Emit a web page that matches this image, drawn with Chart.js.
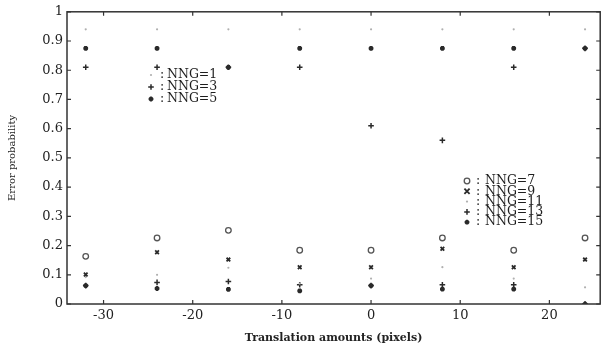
<!DOCTYPE html>
<html>
<head>
<meta charset="utf-8">
<script src="https://cdn.jsdelivr.net/npm/chart.js@4.4.0/dist/chart.umd.min.js"></script>
<style>
  html, body { margin: 0; padding: 0; background: #fff; }
  #wrap { width: 606px; height: 346px; }
</style>
</head>
<body>
<div id="wrap"><canvas id="error-chart"></canvas></div>
<script>
// Translation amounts (pixels)
const shifts = [-32, -24, -16, -8, 0, 8, 16, 24];

// Error probability per NNG
const nng1  = [0.94, 0.94, 0.94, 0.94, 0.94, 0.94, 0.94, 0.94];
const nng3  = [0.81, 0.81, 0.81, 0.81, 0.61, 0.56, 0.81, 0.875];
const nng5  = [0.875, 0.875, 0.81, 0.875, 0.875, 0.875, 0.875, 0.875];
const nng7  = [0.163, 0.226, 0.252, 0.184, 0.184, 0.226, 0.184, 0.226];
const nng9  = [0.101, 0.177, 0.152, 0.126, 0.126, 0.189, 0.126, 0.152];
const nng11 = [0.092, 0.100, 0.124, 0.070, 0.087, 0.126, 0.087, 0.057];
const nng13 = [0.063, 0.074, 0.077, 0.066, 0.063, 0.066, 0.066, 0.000];
const nng15 = [0.063, 0.053, 0.050, 0.045, 0.063, 0.051, 0.051, 0.000];

const xTicks = [-30, -20, -10, 0, 10, 20];
const yTicks = [0, 0.1, 0.2, 0.3, 0.4, 0.5, 0.6, 0.7, 0.8, 0.9, 1];

const legendTop = ['NNG=1', 'NNG=3', 'NNG=5'];
const legendBottom = ['NNG=7', 'NNG=9', 'NNG=11', 'NNG=13', 'NNG=15'];

const INK = '#2a2a2a';
const LIGHT = '#b0b0b0';
const SERIF = "'DejaVu Serif', 'Liberation Serif', serif";

function toPoints(vals) {
  return shifts.map((x, i) => ({ x: x, y: vals[i] }));
}

// marker looks
const marks = {
  dot:    { pointStyle: 'circle',   pointRadius: 1.1, pointBorderWidth: 0,   pointBackgroundColor: LIGHT, pointBorderColor: LIGHT },
  plus:   { pointStyle: 'cross',    pointRadius: 2.8, pointBorderWidth: 1.5, pointBackgroundColor: INK,   pointBorderColor: INK },
  star:   { pointStyle: 'star',     pointRadius: 2.4, pointBorderWidth: 1.8, pointBackgroundColor: INK,   pointBorderColor: INK },
  circle: { pointStyle: 'circle',   pointRadius: 2.8, pointBorderWidth: 1.3, pointBackgroundColor: '#fff', pointBorderColor: '#555' },
  ex:     { pointStyle: 'crossRot', pointRadius: 2.6, pointBorderWidth: 1.8, pointBackgroundColor: INK,   pointBorderColor: INK }
};

function series(label, vals, mark) {
  return Object.assign({ label: label, data: toPoints(vals), showLine: false }, marks[mark]);
}

const datasets = [
  series('NNG=1', nng1, 'dot'),
  series('NNG=3', nng3, 'plus'),
  series('NNG=5', nng5, 'star'),
  series('NNG=7', nng7, 'circle'),
  series('NNG=9', nng9, 'ex'),
  series('NNG=11', nng11, 'dot'),
  series('NNG=13', nng13, 'plus'),
  series('NNG=15', nng15, 'star')
];

// box round the plot, with small inward ticks on all four sides
const framePlugin = {
  id: 'frame',
  afterDraw(chart) {
    const { ctx, chartArea: a, scales } = chart;
    ctx.save();
    ctx.strokeStyle = '#333';
    ctx.lineWidth = 1.5;
    ctx.strokeRect(a.left, a.top, a.right - a.left, a.bottom - a.top);
    ctx.lineWidth = 1.2;
    ctx.beginPath();
    xTicks.forEach(v => {
      const px = scales.x.getPixelForValue(v);
      ctx.moveTo(px, a.bottom); ctx.lineTo(px, a.bottom - 4);
      ctx.moveTo(px, a.top); ctx.lineTo(px, a.top + 4);
    });
    yTicks.forEach(v => {
      const py = scales.y.getPixelForValue(v);
      ctx.moveTo(a.left, py); ctx.lineTo(a.left + 4, py);
      ctx.moveTo(a.right, py); ctx.lineTo(a.right - 4, py);
    });
    ctx.stroke();
    ctx.restore();
  }
};

function drawMark(ctx, kind, x, y) {
  const m = marks[kind];
  ctx.save();
  ctx.strokeStyle = m.pointBorderColor;
  ctx.fillStyle = m.pointBackgroundColor;
  ctx.lineWidth = m.pointBorderWidth || 1;
  const r = m.pointRadius;
  ctx.beginPath();
  if (kind === 'dot') {
    ctx.arc(x, y, r, 0, Math.PI * 2);
    ctx.fill();
  } else if (kind === 'circle') {
    ctx.arc(x, y, r, 0, Math.PI * 2);
    ctx.stroke();
  } else if (kind === 'plus') {
    ctx.moveTo(x - r, y); ctx.lineTo(x + r, y);
    ctx.moveTo(x, y - r); ctx.lineTo(x, y + r);
    ctx.stroke();
  } else if (kind === 'ex') {
    ctx.moveTo(x - r, y - r); ctx.lineTo(x + r, y + r);
    ctx.moveTo(x - r, y + r); ctx.lineTo(x + r, y - r);
    ctx.stroke();
  } else if (kind === 'star') {
    ctx.moveTo(x - r, y); ctx.lineTo(x + r, y);
    ctx.moveTo(x, y - r); ctx.lineTo(x, y + r);
    ctx.moveTo(x - r * 0.7, y - r * 0.7); ctx.lineTo(x + r * 0.7, y + r * 0.7);
    ctx.moveTo(x - r * 0.7, y + r * 0.7); ctx.lineTo(x + r * 0.7, y - r * 0.7);
    ctx.stroke();
  }
  ctx.restore();
}

// the two hand-placed keys inside the plot
const keyPlugin = {
  id: 'keys',
  afterDraw(chart) {
    const ctx = chart.ctx;
    ctx.save();
    ctx.font = '12.5px ' + SERIF;
    ctx.fillStyle = '#1e1e1e';
    ctx.textBaseline = 'middle';
    const topKinds = ['dot', 'plus', 'star'];
    legendTop.forEach((t, i) => {
      const y = 75 + i * 12;
      drawMark(ctx, topKinds[i], 151, y);
      ctx.fillText(':', 160, y);
      ctx.fillText(t, 167, y);
    });
    const botKinds = ['circle', 'ex', 'dot', 'plus', 'star'];
    legendBottom.forEach((t, i) => {
      const y = 181 + i * 10.3;
      drawMark(ctx, botKinds[i], 467, y);
      ctx.fillText(':', 476, y);
      ctx.fillText(t, 485, y);
    });
    ctx.restore();
  }
};

const chart = new Chart(document.getElementById('error-chart').getContext('2d'), {
  type: 'scatter',
  data: { datasets: datasets },
  options: {
    responsive: true,
    maintainAspectRatio: false,
    animation: false,
    layout: { padding: { top: 8, right: 1, left: 0, bottom: 0 } },
    plugins: {
      legend: { display: false },
      tooltip: { enabled: false }
    },
    scales: {
      x: {
        type: 'linear',
        min: -34.1,
        max: 25.7,
        afterBuildTicks: s => { s.ticks = xTicks.map(v => ({ value: v })); },
        afterFit: s => { s.height = 42; },
        grid: { display: false, drawTicks: false },
        border: { display: false },
        ticks: { font: { family: SERIF, size: 13 }, color: '#222', padding: 4, maxRotation: 0 },
        title: {
          display: true,
          text: 'Translation amounts (pixels)',
          font: { family: SERIF, size: 11, weight: 'bold' },
          color: '#222',
          padding: { top: 0, bottom: 1 }
        }
      },
      y: {
        min: 0,
        max: 1,
        afterBuildTicks: s => { s.ticks = yTicks.map(v => ({ value: v })); },
        afterFit: s => { s.width = 67; },
        grid: { display: false, drawTicks: false },
        border: { display: false },
        ticks: {
          font: { family: SERIF, size: 13 },
          color: '#222',
          padding: 4,
          callback: v => String(Math.round(v * 10) / 10)
        },
        title: {
          display: true,
          text: 'Error probability',
          font: { family: SERIF, size: 10 },
          color: '#222',
          padding: { top: 6, bottom: 0 }
        }
      }
    }
  },
  plugins: [framePlugin, keyPlugin]
});
</script>
</body>
</html>
